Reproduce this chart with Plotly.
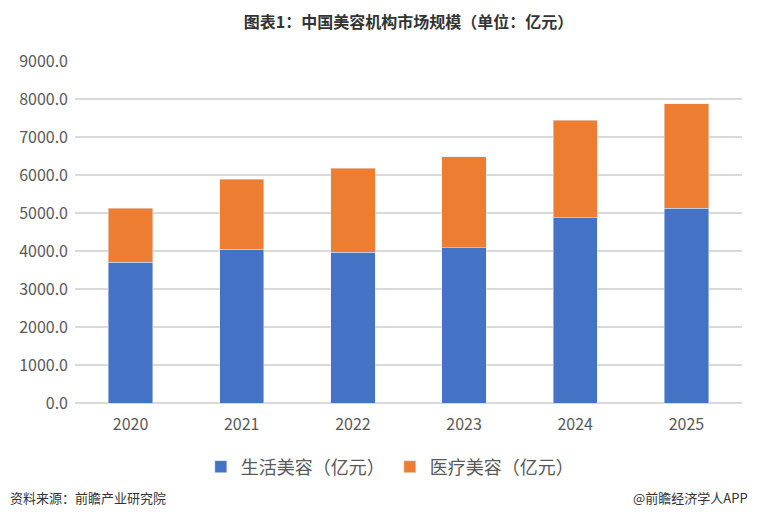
import plotly.graph_objects as go

# dane
lata = ["2020", "2021", "2022", "2023", "2024", "2025"]
zycie = [3710, 4040, 3965, 4080, 4875, 5120]  # 生活美容
razem = [5130, 5890, 6180, 6480, 7440, 7875]
medycyna = [r - z for r, z in zip(razem, zycie)]  # 医疗美容

fig = go.Figure()
fig.add_trace(go.Bar(x=lata, y=zycie, name="生活美容（亿元）", marker_color="#4472C4"))
fig.add_trace(go.Bar(x=lata, y=medycyna, name="医疗美容（亿元）", marker_color="#ED7D31"))

font_main = "Noto Sans CJK SC"

# strona ma 8px marginesu, wiec figura jest mniejsza o 8px
fig.update_layout(
    barmode="stack",
    bargap=0.6,
    width=752, height=512,
    margin=dict(l=67, r=18, t=53, b=117),
    plot_bgcolor="white", paper_bgcolor="white",
    font=dict(family=font_main, color="#595959", size=16),
    title=dict(text="<b>图表1：中国美容机构市场规模（单位：亿元）</b>",
               x=0.5, xref="paper", xanchor="center", y=0.972, yanchor="middle",
               font=dict(size=16, color="#333333")),
    legend=dict(orientation="h", x=0.472, xanchor="center", y=-0.187, yanchor="middle",
                font=dict(size=18, color="#595959"), traceorder="normal"),
    xaxis=dict(showline=False, ticks="", tickfont=dict(size=16), ticklabelstandoff=10),
    yaxis=dict(range=[0, 9000], dtick=1000, tickformat=".1f", separatethousands=False,
               showgrid=True, gridcolor="#D9D9D9", gridwidth=1.5, zeroline=True,
               zerolinecolor="#D9D9D9", zerolinewidth=1.5, tickfont=dict(size=16),
               ticklabelstandoff=6),
)

fig.add_annotation(text="资料来源：前瞻产业研究院", xref="paper", yref="paper",
                   x=-0.1, y=-0.275, xanchor="left", yanchor="middle", showarrow=False,
                   font=dict(size=13, color="#333333"))
fig.add_annotation(text="@前瞻经济学人APP", xref="paper", yref="paper",
                   x=1.012, y=-0.275, xanchor="right", yanchor="middle", showarrow=False,
                   font=dict(size=13, color="#333333"))

fig.write_html("out.html")
